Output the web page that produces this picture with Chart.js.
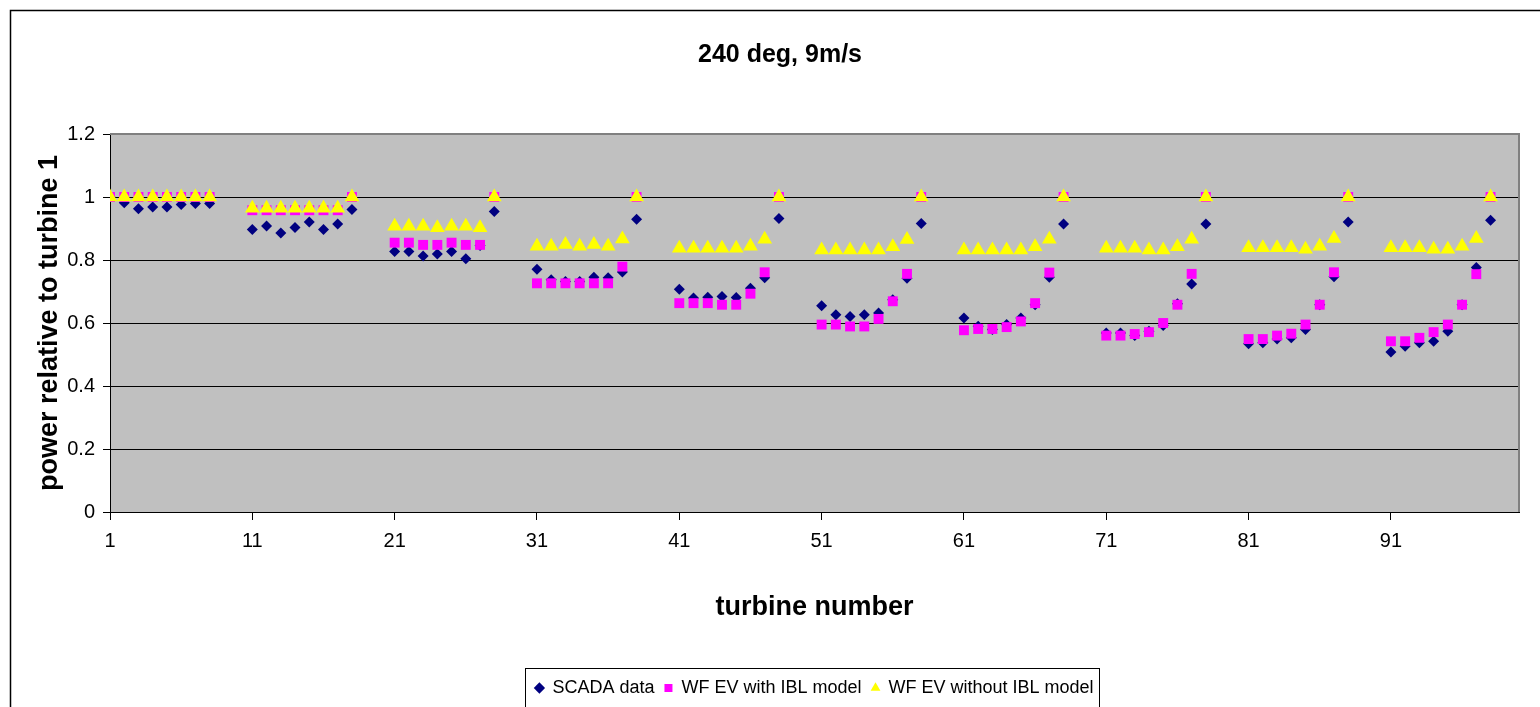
<!DOCTYPE html>
<html lang="en">
<head>
    <meta charset="UTF-8">
    <title>240 deg, 9m/s</title>
    <script src="https://cdn.jsdelivr.net/npm/chart.js"></script>
    <style>
        html, body { margin: 0; padding: 0; background: #fff; }
        #wrap { width: 1540px; height: 707px; }
    </style>
</head>
<body>
<div id="wrap"><canvas id="chart"></canvas></div>

<script>
    // turbine numbers (rows of 8)
    const turbineNumbers = [
        1, 2, 3, 4, 5, 6, 7, 8,
        11, 12, 13, 14, 15, 16, 17, 18,
        21, 22, 23, 24, 25, 26, 27, 28,
        31, 32, 33, 34, 35, 36, 37, 38,
        41, 42, 43, 44, 45, 46, 47, 48,
        51, 52, 53, 54, 55, 56, 57, 58,
        61, 62, 63, 64, 65, 66, 67, 68,
        71, 72, 73, 74, 75, 76, 77, 78,
        81, 82, 83, 84, 85, 86, 87, 88,
        91, 92, 93, 94, 95, 96, 97, 98
    ];

    const scadaData = [
        1.0, 0.982, 0.963, 0.968, 0.968, 0.976, 0.979, 0.979,
        0.897, 0.908, 0.886, 0.903, 0.921, 0.897, 0.914, 0.96,
        0.827, 0.827, 0.813, 0.819, 0.827, 0.804, 0.846, 0.954,
        0.771, 0.737, 0.732, 0.732, 0.745, 0.744, 0.762, 0.929,
        0.707, 0.679, 0.682, 0.684, 0.681, 0.71, 0.744, 0.932,
        0.655, 0.626, 0.621, 0.626, 0.632, 0.674, 0.742, 0.916,
        0.616, 0.59, 0.579, 0.595, 0.616, 0.658, 0.745, 0.914,
        0.568, 0.568, 0.56, 0.574, 0.592, 0.661, 0.724, 0.914,
        0.534, 0.537, 0.549, 0.553, 0.579, 0.658, 0.747, 0.921,
        0.508, 0.526, 0.537, 0.542, 0.574, 0.658, 0.776, 0.926
    ];

    const withIblData = [
        1.0, 1.0, 1.0, 1.0, 1.0, 1.0, 1.0, 1.0,
        0.958, 0.958, 0.958, 0.958, 0.958, 0.958, 0.958, 1.0,
        0.855, 0.855, 0.848, 0.848, 0.855, 0.848, 0.848, 1.0,
        0.726, 0.726, 0.726, 0.726, 0.726, 0.726, 0.779, 1.0,
        0.663, 0.663, 0.663, 0.658, 0.658, 0.693, 0.761, 1.0,
        0.595, 0.595, 0.589, 0.589, 0.613, 0.669, 0.756, 1.0,
        0.577, 0.581, 0.581, 0.587, 0.605, 0.663, 0.76, 1.0,
        0.56, 0.56, 0.565, 0.571, 0.6, 0.658, 0.756, 1.0,
        0.549, 0.549, 0.56, 0.566, 0.595, 0.658, 0.761, 1.0,
        0.542, 0.542, 0.553, 0.571, 0.595, 0.658, 0.755, 1.0
    ];

    const withoutIblData = [
        1.0, 1.0, 1.0, 1.0, 1.0, 1.0, 1.0, 1.0,
        0.964, 0.964, 0.964, 0.964, 0.964, 0.964, 0.964, 1.0,
        0.907, 0.907, 0.907, 0.902, 0.907, 0.907, 0.902, 1.0,
        0.844, 0.844, 0.849, 0.844, 0.849, 0.844, 0.867, 1.0,
        0.837, 0.837, 0.837, 0.837, 0.837, 0.844, 0.866, 1.0,
        0.832, 0.832, 0.832, 0.832, 0.832, 0.842, 0.865, 1.0,
        0.832, 0.832, 0.832, 0.832, 0.832, 0.842, 0.866, 1.0,
        0.837, 0.837, 0.837, 0.832, 0.832, 0.842, 0.866, 1.0,
        0.839, 0.839, 0.839, 0.839, 0.834, 0.844, 0.868, 1.0,
        0.839, 0.839, 0.839, 0.834, 0.834, 0.844, 0.868, 1.0
    ];

    const xTickValues = [1, 11, 21, 31, 41, 51, 61, 71, 81, 91];

    const sans = "'Liberation Sans', Arial, sans-serif";

    const toPoints = vals => vals.map((v, i) => ({ x: turbineNumbers[i], y: v }));

    // plot background, outer frame, legend box
    const decor = {
        id: 'decor',
        beforeDraw(chart) {
            const { ctx, chartArea: a } = chart;
            ctx.save();
            ctx.fillStyle = '#fff';
            ctx.fillRect(0, 0, chart.width, chart.height);
            ctx.strokeStyle = '#000';
            ctx.lineWidth = 1.5;
            ctx.strokeRect(10.5, 10.5, chart.width + 40, chart.height + 40);
            ctx.fillStyle = '#c0c0c0';
            ctx.fillRect(a.left, a.top, a.right - a.left, a.bottom - a.top);
            ctx.restore();
        },
        beforeDatasetsDraw(chart) {
            const { ctx, chartArea: a } = chart;
            ctx.save();
            ctx.strokeStyle = '#808080';
            ctx.lineWidth = 2;
            ctx.beginPath();
            ctx.moveTo(a.left, a.top);
            ctx.lineTo(a.right, a.top);
            ctx.lineTo(a.right, a.bottom);
            ctx.stroke();
            ctx.restore();
        },
        afterDraw(chart) {
            const lg = chart.legend;
            if (!lg || !lg.legendHitBoxes.length) return;
            const hb = lg.legendHitBoxes;
            const left = Math.min(...hb.map(h => h.left)) - 10;
            const right = Math.max(...hb.map(h => h.left + h.width)) + 6;
            const cy = hb[0].top + hb[0].height / 2;
            const ctx = chart.ctx;
            ctx.save();
            ctx.strokeStyle = '#000';
            ctx.lineWidth = 1;
            ctx.strokeRect(Math.round(left) + 0.5, Math.round(cy - 20) + 0.5, Math.round(right - left), 40);
            ctx.restore();
        }
    };

    new Chart(document.getElementById('chart'), {
        type: 'scatter',
        data: {
            datasets: [
                {
                    label: 'SCADA data',
                    data: toPoints(scadaData),
                    pointStyle: 'rectRot',
                    pointRadius: 5.5,
                    backgroundColor: '#000080',
                    borderColor: '#000080',
                    pointBorderWidth: 0,
                    order: 3
                },
                {
                    label: 'WF EV with IBL model',
                    data: toPoints(withIblData),
                    pointStyle: 'rect',
                    pointRadius: 7,
                    backgroundColor: '#ff00ff',
                    borderColor: '#ff00ff',
                    pointBorderWidth: 0,
                    order: 2
                },
                {
                    label: 'WF EV without IBL model',
                    data: toPoints(withoutIblData),
                    pointStyle: 'triangle',
                    pointRadius: 8.5,
                    backgroundColor: '#ffff00',
                    borderColor: '#ffff00',
                    pointBorderWidth: 0,
                    order: 1
                }
            ]
        },
        options: {
            responsive: true,
            maintainAspectRatio: false,
            animation: false,
            events: [],
            layout: { padding: { left: 20, right: 0, top: 0, bottom: 0 } },
            plugins: {
                title: {
                    display: true,
                    text: '240 deg, 9m/s',
                    color: '#000',
                    font: { family: sans, size: 25, weight: 'bold' },
                    padding: { top: 40, bottom: 64 }
                },
                legend: {
                    position: 'bottom',
                    fullSize: false,
                    labels: {
                        usePointStyle: true,
                        boxWidth: 8,
                        boxHeight: 8,
                        padding: 10,
                        color: '#000',
                        font: { family: sans, size: 18 },
                        sort: (a, b) => a.datasetIndex - b.datasetIndex
                    }
                },
                tooltip: { enabled: false }
            },
            scales: {
                x: {
                    type: 'linear',
                    min: 1,
                    max: 100,
                    afterBuildTicks: s => { s.ticks = xTickValues.map(v => ({ value: v })); },
                    afterFit: s => { s.height = 157; },
                    grid: { drawOnChartArea: false, drawTicks: true, tickLength: 8, color: '#000', tickColor: '#000' },
                    border: { color: '#000', width: 1 },
                    ticks: { color: '#000', padding: 9, maxRotation: 0, font: { family: sans, size: 20 }, callback: v => String(v) },
                    title: {
                        display: true,
                        text: 'turbine number',
                        color: '#000',
                        font: { family: sans, size: 27, weight: 'bold' },
                        padding: { top: 0, bottom: 45 }
                    }
                },
                y: {
                    min: 0,
                    max: 1.2,
                    afterFit: s => { s.width = 90; },
                    ticks: { stepSize: 0.2, color: '#000', padding: 8, font: { family: sans, size: 20 }, callback: v => String(Math.round(v * 10) / 10) },
                    grid: {
                        color: c => (c.tick && Math.abs(c.tick.value - 1.2) < 1e-6) ? '#808080' : '#000',
                        tickColor: '#000',
                        tickLength: 7,
                        lineWidth: 1
                    },
                    border: { color: '#000', width: 1 },
                    title: {
                        display: true,
                        text: 'power relative to turbine 1',
                        color: '#000',
                        font: { family: sans, size: 27, weight: 'bold' },
                        padding: { top: 13, bottom: 0 }
                    }
                },
                y2: {
                    position: 'right',
                    display: true,
                    afterFit: s => { s.width = 21; },
                    grid: { display: false },
                    border: { display: false },
                    ticks: { display: false }
                }
            }
        },
        plugins: [decor]
    });
</script>
</body>
</html>
